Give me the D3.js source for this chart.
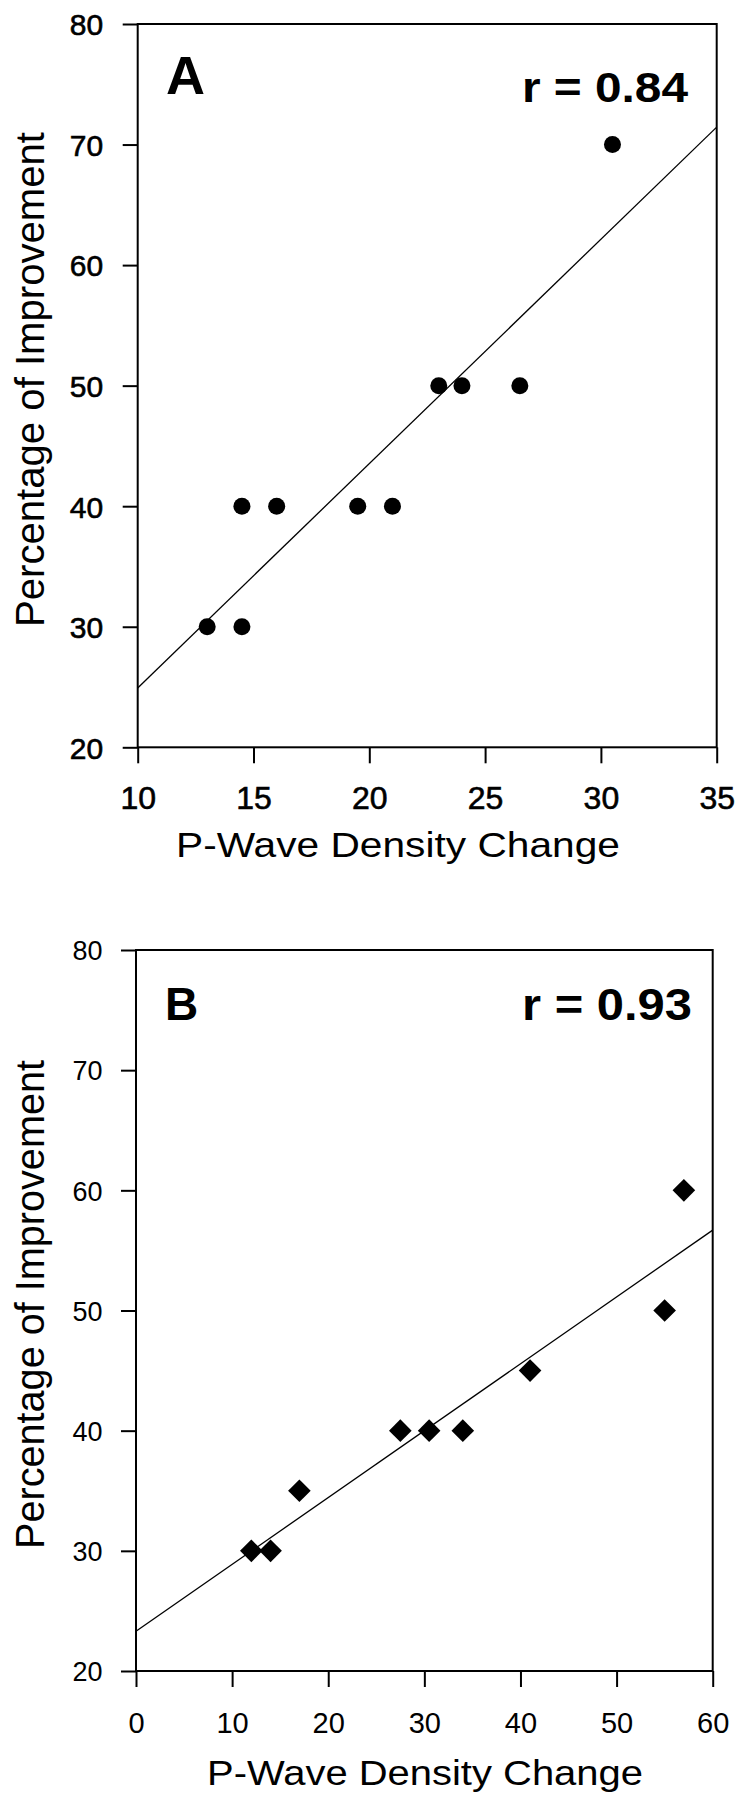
<!DOCTYPE html>
<html>
<head>
<meta charset="utf-8">
<script src="https://cdn.jsdelivr.net/npm/d3@7"></script>
<style>
  html, body { margin: 0; padding: 0; background: #fff; }
  svg { display: block; }
  text { font-family: "Liberation Sans", Arial, sans-serif; fill: #000; }
</style>
</head>
<body>
<svg id="chart" width="739" height="1800"></svg>
<script>
// ---- data ----
const aDensity = [13, 14.5, 14.5, 16, 19.5, 21, 23, 24, 26.5, 30.5];
const aImprove = [30, 30, 40, 40, 40, 40, 50, 50, 50, 70];
const bDensity = [12, 14, 17, 27.5, 30.5, 34, 41, 55, 57];
const bImprove = [30, 30, 35, 40, 40, 40, 45, 50, 60];
const aXTicks = [10, 15, 20, 25, 30, 35];
const bXTicks = [0, 10, 20, 30, 40, 50, 60];
const yTicks = [20, 30, 40, 50, 60, 70, 80];
const panelLabels = ["A", "B"];
const rLabels = ["r = 0.84", "r = 0.93"];
const xTitle = "P-Wave Density Change";
const yTitle = "Percentage of Improvement";

const svg = d3.select("#chart");

function fit(xs, ys) {
  const mx = d3.mean(xs), my = d3.mean(ys);
  let sxy = 0, sxx = 0;
  xs.forEach((x, i) => { sxy += (x - mx) * (ys[i] - my); sxx += (x - mx) * (x - mx); });
  const b = sxy / sxx;
  return x => my + b * (x - mx);
}

const panels = [
  {
    xs: aDensity, ys: aImprove, xTicks: aXTicks, xDomain: [10, 35],
    left: 137.7, right: 716.7, top: 24, bottom: 747.3,
    marker: "circle", label: panelLabels[0], r: rLabels[0],
    labelPos: [166, 94, 54], rPos: [522, 101.7, 42, 166],
    yTickPad: 19.5, yTickFont: 30, xTickFont: 32, xTickBase: 809,
    yTitle: [43.5, 379.5, 40, 495], xTitle: [398, 857, 35, 444],
    tickWeight: "normal", tickStroke: 0.6
  },
  {
    xs: bDensity, ys: bImprove, xTicks: bXTicks, xDomain: [0, 60],
    left: 136, right: 712.7, top: 950, bottom: 1671,
    marker: "diamond", label: panelLabels[1], r: rLabels[1],
    labelPos: [165, 1020, 46], rPos: [522, 1020, 44, 170],
    yTickPad: 18.5, yTickFont: 27, xTickFont: 29, xTickBase: 1733,
    yTitle: [43.5, 1304.5, 40, 489], xTitle: [425, 1785, 35, 436],
    tickWeight: "300", tickStroke: 0
  }
];

panels.forEach(p => {
  const g = svg.append("g");
  const x = d3.scaleLinear().domain(p.xDomain).range([p.left, p.right]);
  const y = d3.scaleLinear().domain([20, 80]).range([p.bottom, p.top]);

  // y axis
  const ya = g.append("g").attr("transform", `translate(${p.left},0)`)
    .call(d3.axisLeft(y).tickValues(yTicks).tickSize(15).tickSizeOuter(0).tickPadding(p.yTickPad).tickFormat(d3.format("d")));
  ya.select(".domain").remove();
  ya.selectAll(".tick line").attr("stroke", "#000").attr("stroke-width", 2);
  ya.selectAll(".tick text").attr("font-size", p.yTickFont)
    .attr("font-family", "'Liberation Sans', Arial, sans-serif")
    .attr("font-weight", p.tickWeight)
    .attr("stroke", p.tickStroke ? "#000" : null).attr("stroke-width", p.tickStroke || null)
    .attr("dy", "0.36em");

  // x axis
  const xa = g.append("g").attr("transform", `translate(0,${p.bottom})`)
    .call(d3.axisBottom(x).tickValues(p.xTicks).tickSize(16).tickSizeOuter(0).tickFormat(d3.format("d")));
  xa.select(".domain").remove();
  xa.selectAll(".tick line").attr("stroke", "#000").attr("stroke-width", 2);
  xa.selectAll(".tick text").attr("font-size", p.xTickFont)
    .attr("font-family", "'Liberation Sans', Arial, sans-serif")
    .attr("font-weight", p.tickWeight)
    .attr("stroke", p.tickStroke ? "#000" : null).attr("stroke-width", p.tickStroke || null)
    .attr("y", p.xTickBase - p.bottom).attr("dy", 0);

  // frame
  g.append("rect")
    .attr("x", x(p.xDomain[0])).attr("y", y(80))
    .attr("width", x(p.xDomain[1]) - x(p.xDomain[0]))
    .attr("height", y(20) - y(80))
    .attr("fill", "none").attr("stroke", "#000").attr("stroke-width", 2);

  // regression line
  const f = fit(p.xs, p.ys);
  g.append("line")
    .attr("x1", x(p.xDomain[0])).attr("y1", y(f(p.xDomain[0])))
    .attr("x2", x(p.xDomain[1])).attr("y2", y(f(p.xDomain[1])))
    .attr("stroke", "#000").attr("stroke-width", 1.3);

  // markers
  const pts = p.xs.map((v, i) => [v, p.ys[i]]);
  if (p.marker === "circle") {
    g.selectAll("circle.pt").data(pts).enter().append("circle")
      .attr("class", "pt")
      .attr("cx", d => x(d[0])).attr("cy", d => y(d[1]))
      .attr("r", 8.5).attr("fill", "#000");
  } else {
    const sym = d3.symbol().type(d3.symbolSquare).size(256);
    g.selectAll("path.pt").data(pts).enter().append("path")
      .attr("class", "pt")
      .attr("d", sym)
      .attr("transform", d => `translate(${x(d[0])},${y(d[1])}) rotate(45)`)
      .attr("fill", "#000");
  }

  // panel letter
  g.append("text").attr("x", p.labelPos[0]).attr("y", p.labelPos[1])
    .attr("font-size", p.labelPos[2]).attr("font-weight", "bold").text(p.label);

  // r label
  g.append("text").attr("x", p.rPos[0]).attr("y", p.rPos[1])
    .attr("font-size", p.rPos[2]).attr("font-weight", "bold")
    .attr("textLength", p.rPos[3]).attr("lengthAdjust", "spacingAndGlyphs")
    .text(p.r);

  // y title
  g.append("text")
    .attr("transform", `translate(${p.yTitle[0]},${p.yTitle[1]}) rotate(-90)`)
    .attr("text-anchor", "middle")
    .attr("font-size", p.yTitle[2])
    .attr("textLength", p.yTitle[3]).attr("lengthAdjust", "spacingAndGlyphs")
    .text(yTitle);

  // x title
  g.append("text")
    .attr("x", p.xTitle[0] - p.xTitle[3] / 2).attr("y", p.xTitle[1])
    .attr("font-size", p.xTitle[2])
    .attr("textLength", p.xTitle[3]).attr("lengthAdjust", "spacingAndGlyphs")
    .text(xTitle);
});
</script>
</body>
</html>
